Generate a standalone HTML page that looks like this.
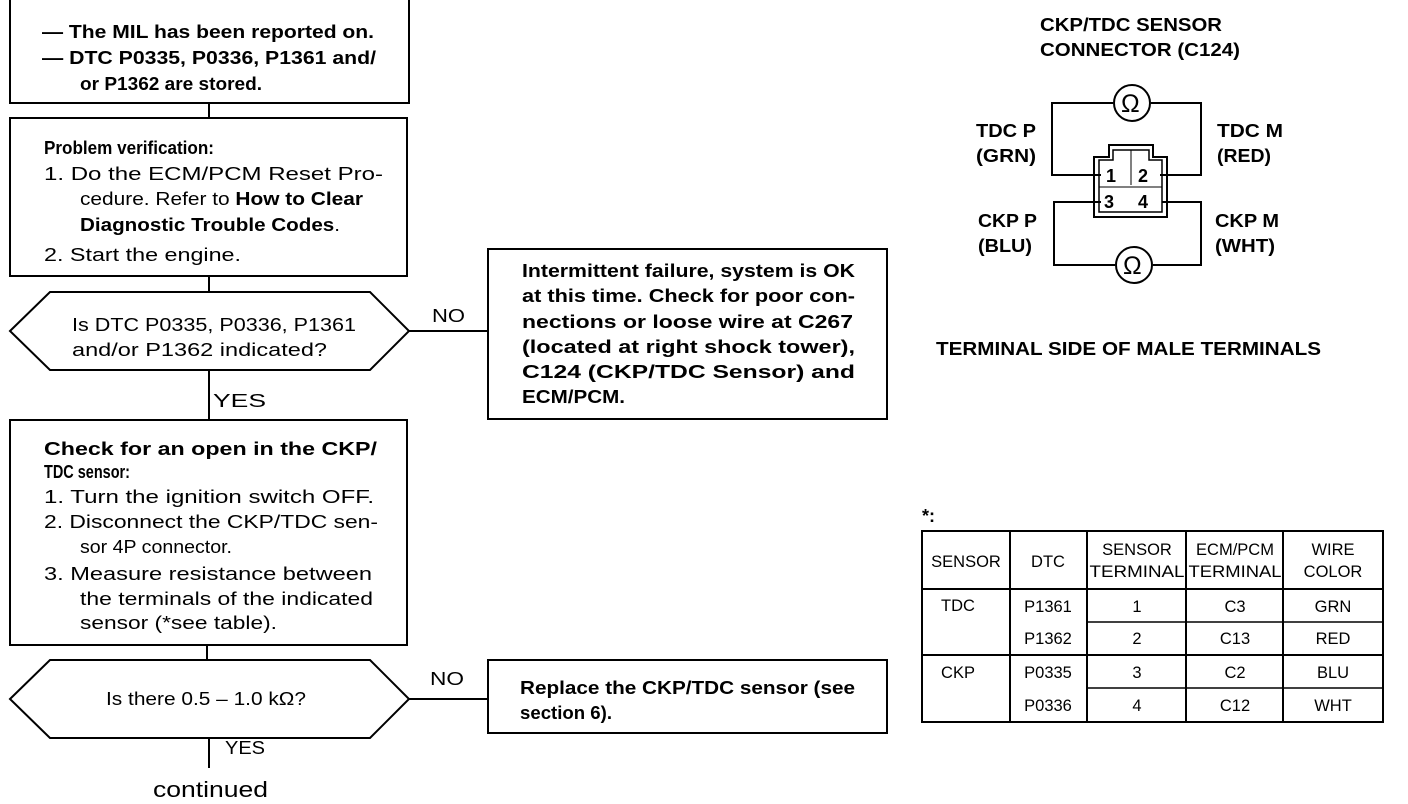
<!DOCTYPE html>
<html><head><meta charset="utf-8"><style>
body{margin:0;background:#fff;}
svg{display:block;font-family:"Liberation Sans",Arial,sans-serif;}
.b{font-weight:bold;font-size:18px;}
.n{font-size:18px;}
</style></head><body>
<svg width="1408" height="804" viewBox="0 0 1408 804" xmlns="http://www.w3.org/2000/svg">
<g fill="none" stroke="#000" stroke-width="2">
<rect x="10" y="-2" width="399" height="105"/>
<line x1="209" y1="103" x2="209" y2="118"/>
<rect x="10" y="118" width="397" height="158"/>
<line x1="209" y1="276" x2="209" y2="292"/>
<polygon points="10,331 50,292 370,292 409,331 370,370 50,370"/>
<line x1="409" y1="331" x2="488" y2="331"/>
<rect x="488" y="249" width="399" height="170"/>
<line x1="209" y1="370" x2="209" y2="420"/>
<rect x="10" y="420" width="397" height="225"/>
<line x1="207" y1="645" x2="207" y2="660"/>
<polygon points="10,699 50,660 370,660 409,699 370,738 50,738"/>
<line x1="409" y1="699" x2="488" y2="699"/>
<rect x="488" y="660" width="399" height="73"/>
<line x1="209" y1="738" x2="209" y2="768"/>
</g>
<g class="b" lengthAdjust="spacingAndGlyphs">
<text x="42" y="38" textLength="332" lengthAdjust="spacingAndGlyphs">—  The MIL has been reported on.</text>
<text x="42" y="64" textLength="334" lengthAdjust="spacingAndGlyphs">—  DTC P0335, P0336, P1361 and/</text>
<text x="80" y="90" textLength="182" lengthAdjust="spacingAndGlyphs">or P1362 are stored.</text>
<text x="44" y="154" textLength="170" lengthAdjust="spacingAndGlyphs">Problem verification:</text>
<text x="44" y="455" textLength="333" lengthAdjust="spacingAndGlyphs">Check for an open in the CKP/</text>
<text x="44" y="478" textLength="86" lengthAdjust="spacingAndGlyphs">TDC sensor:</text>
<text x="522" y="277" textLength="333" lengthAdjust="spacingAndGlyphs">Intermittent failure, system is OK</text>
<text x="522" y="302" textLength="333" lengthAdjust="spacingAndGlyphs">at this time. Check for poor con-</text>
<text x="522" y="328" textLength="331" lengthAdjust="spacingAndGlyphs">nections or loose wire at C267</text>
<text x="522" y="353" textLength="333" lengthAdjust="spacingAndGlyphs">(located at right shock tower),</text>
<text x="522" y="378" textLength="333" lengthAdjust="spacingAndGlyphs">C124 (CKP/TDC Sensor) and</text>
<text x="522" y="403" textLength="103" lengthAdjust="spacingAndGlyphs">ECM/PCM.</text>
<text x="520" y="694" textLength="335" lengthAdjust="spacingAndGlyphs">Replace the CKP/TDC sensor (see</text>
<text x="520" y="719" textLength="92" lengthAdjust="spacingAndGlyphs">section 6).</text>
</g>
<g class="n">
<text x="44" y="180" textLength="339" lengthAdjust="spacingAndGlyphs">1.  Do the ECM/PCM Reset Pro-</text>
<text x="80" y="205" textLength="283" lengthAdjust="spacingAndGlyphs">cedure. Refer to <tspan font-weight="bold">How to Clear</tspan></text>
<text x="80" y="231" textLength="260" lengthAdjust="spacingAndGlyphs"><tspan font-weight="bold">Diagnostic Trouble Codes</tspan>.</text>
<text x="44" y="261" textLength="197" lengthAdjust="spacingAndGlyphs">2.  Start the engine.</text>
<text x="72" y="331" textLength="284" lengthAdjust="spacingAndGlyphs">Is DTC P0335, P0336, P1361</text>
<text x="72" y="356" textLength="255" lengthAdjust="spacingAndGlyphs">and/or P1362 indicated?</text>
<text x="44" y="503" textLength="330" lengthAdjust="spacingAndGlyphs">1.  Turn the ignition switch OFF.</text>
<text x="44" y="528" textLength="334" lengthAdjust="spacingAndGlyphs">2.  Disconnect the CKP/TDC sen-</text>
<text x="80" y="553" textLength="152" lengthAdjust="spacingAndGlyphs">sor 4P connector.</text>
<text x="44" y="580" textLength="328" lengthAdjust="spacingAndGlyphs">3.  Measure resistance between</text>
<text x="80" y="605" textLength="293" lengthAdjust="spacingAndGlyphs">the terminals of the indicated</text>
<text x="80" y="629" textLength="197" lengthAdjust="spacingAndGlyphs">sensor (*see table).</text>
<text x="106" y="705" textLength="200" lengthAdjust="spacingAndGlyphs">Is there 0.5 – 1.0 kΩ?</text>
<text x="432" y="322" textLength="33" lengthAdjust="spacingAndGlyphs">NO</text>
<text x="213" y="407" textLength="53" lengthAdjust="spacingAndGlyphs">YES</text>
<text x="430" y="685" textLength="34" lengthAdjust="spacingAndGlyphs">NO</text>
<text x="225" y="754" textLength="40" lengthAdjust="spacingAndGlyphs">YES</text>
<text x="153" y="797" font-size="22" textLength="115" lengthAdjust="spacingAndGlyphs">continued</text>
</g>
<!-- connector -->
<g class="b">
<text x="1040" y="31" textLength="182" lengthAdjust="spacingAndGlyphs">CKP/TDC SENSOR</text>
<text x="1040" y="56" textLength="200" lengthAdjust="spacingAndGlyphs">CONNECTOR (C124)</text>
<text x="976" y="137" textLength="60" lengthAdjust="spacingAndGlyphs">TDC P</text>
<text x="976" y="162" textLength="60" lengthAdjust="spacingAndGlyphs">(GRN)</text>
<text x="1217" y="137" textLength="66" lengthAdjust="spacingAndGlyphs">TDC M</text>
<text x="1217" y="162" textLength="54" lengthAdjust="spacingAndGlyphs">(RED)</text>
<text x="978" y="227" textLength="59" lengthAdjust="spacingAndGlyphs">CKP P</text>
<text x="978" y="252" textLength="54" lengthAdjust="spacingAndGlyphs">(BLU)</text>
<text x="1215" y="227" textLength="64" lengthAdjust="spacingAndGlyphs">CKP M</text>
<text x="1215" y="252" textLength="60" lengthAdjust="spacingAndGlyphs">(WHT)</text>
<text x="936" y="355" textLength="385" lengthAdjust="spacingAndGlyphs">TERMINAL SIDE OF MALE TERMINALS</text>
</g>
<g fill="none" stroke="#000" stroke-width="2">
<polyline points="1101,175 1052,175 1052,103 1113,103"/>
<polyline points="1151,103 1201,103 1201,175 1160,175"/>
<circle cx="1132" cy="103" r="18"/>
<polyline points="1101,202 1054,202 1054,265 1115,265"/>
<polyline points="1153,265 1201,265 1201,202 1162,202"/>
<circle cx="1134" cy="265" r="18"/>
<path d="M1094,157 H1109 V145 H1153 V157 H1167 V217 H1094 Z"/>
<path d="M1099,160 H1113 V150 H1149 V160 H1162 V212 H1099 Z" stroke-width="1.5"/>
<line x1="1131" y1="150" x2="1131" y2="185" stroke-width="1"/>
<line x1="1099" y1="187" x2="1162" y2="187" stroke-width="1"/>
</g>
<g class="b" font-size="18">
<text x="1106" y="182">1</text><text x="1138" y="182">2</text>
<text x="1104" y="208">3</text><text x="1138" y="208">4</text>
<text x="1121" y="112" font-size="25" font-weight="normal">Ω</text>
<text x="1123" y="274" font-size="25" font-weight="normal">Ω</text>
</g>
<!-- table -->
<text x="922" y="522" class="b">*:</text>
<g fill="none" stroke="#000" stroke-width="2">
<rect x="922" y="531" width="461" height="191"/>
<line x1="1010" y1="531" x2="1010" y2="722"/>
<line x1="1087" y1="531" x2="1087" y2="722"/>
<line x1="1186" y1="531" x2="1186" y2="722"/>
<line x1="1283" y1="531" x2="1283" y2="722"/>
<line x1="922" y1="589" x2="1383" y2="589"/>
<line x1="922" y1="655" x2="1383" y2="655"/>
<line x1="1087" y1="622" x2="1383" y2="622" stroke-width="1.5"/>
<line x1="1087" y1="688" x2="1383" y2="688" stroke-width="1.5"/>
</g>
<g font-size="16.5" text-anchor="middle">
<text x="966" y="567">SENSOR</text>
<text x="1048" y="567">DTC</text>
<text x="1137" y="555">SENSOR</text><text x="1137" y="577" textLength="95" lengthAdjust="spacingAndGlyphs">TERMINAL</text>
<text x="1235" y="555">ECM/PCM</text><text x="1235" y="577" textLength="93" lengthAdjust="spacingAndGlyphs">TERMINAL</text>
<text x="1333" y="555">WIRE</text><text x="1333" y="577">COLOR</text>
<text x="958" y="611">TDC</text><text x="958" y="678">CKP</text>
<text x="1048" y="612">P1361</text><text x="1048" y="644">P1362</text>
<text x="1048" y="678">P0335</text><text x="1048" y="711">P0336</text>
<text x="1137" y="612">1</text><text x="1137" y="644">2</text>
<text x="1137" y="678">3</text><text x="1137" y="711">4</text>
<text x="1235" y="612">C3</text><text x="1235" y="644">C13</text>
<text x="1235" y="678">C2</text><text x="1235" y="711">C12</text>
<text x="1333" y="612">GRN</text><text x="1333" y="644">RED</text>
<text x="1333" y="678">BLU</text><text x="1333" y="711">WHT</text>
</g>
</svg>
</body></html>
